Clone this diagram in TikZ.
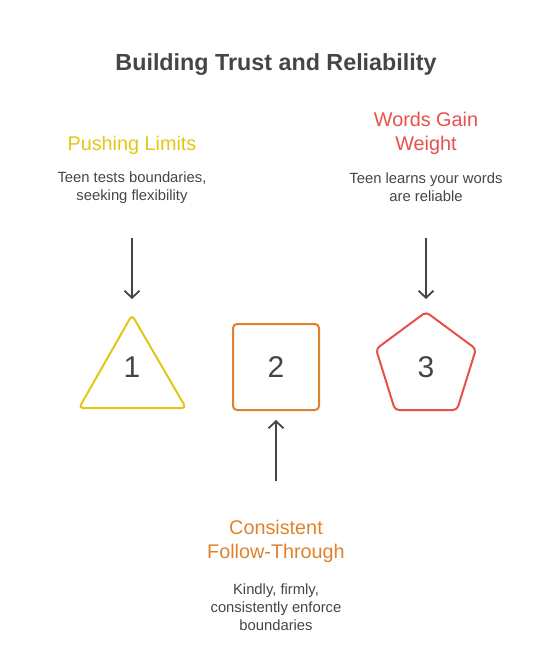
\documentclass[tikz,border=0pt]{standalone}
\usepackage{fontspec}
\setmainfont{Liberation Sans}
\usetikzlibrary{arrows.meta}
\definecolor{ink}{HTML}{454545}
\definecolor{cyel}{HTML}{E2C716}
\definecolor{corg}{HTML}{E0822D}
\definecolor{cred}{HTML}{E8504B}
\tikzset{
  x=1pt, y=-1pt,
  heading/.style={align=center, font=\fontsize{19.8}{24}\selectfont, inner sep=0pt},
  desc/.style={align=center, text=ink, font=\fontsize{14.8}{18}\selectfont, inner sep=0pt},
  num/.style={text=ink, font=\fontsize{30}{32}\selectfont, inner sep=0pt},
  shapeline/.style={line width=2pt, rounded corners=4pt},
  conn/.style={draw=ink, line width=1.8pt, -{Straight Barb[length=7pt,width=15pt,line width=1.8pt]}},
}
\begin{document}
\begin{tikzpicture}
\useasboundingbox (0,0) rectangle (552,646);
\node[font=\bfseries\fontsize{23.3}{26}\selectfont, text=ink] (title) at (276,65) {Building Trust and Reliability};

% left
\node[heading, text=cyel] (h1) at (132,145) {Pushing Limits};
\node[desc] (d1) at (132,187.5) {Teen tests boundaries,\\seeking flexibility};
\draw[shapeline, draw=cyel] (132,315) -- (186,408) -- (79,408) -- cycle;
\node[num] (n1) at (132,367) {1};
\coordinate (a1s) at (132,238);
\coordinate (a1e) at (132,299);
\draw[conn] (a1s) -- (a1e);

% middle
\draw[shapeline, draw=corg] (233,324) rectangle (319,410);
\node[num] (n2) at (276,367) {2};
\node[heading, text=corg] (h2) at (276,541.5) {Consistent\\Follow-Through};
\node[desc] (d2) at (276,607.5) {Kindly, firmly,\\consistently enforce\\boundaries};
\coordinate (a2s) at (276,481);
\coordinate (a2e) at (276,420);
\draw[conn] (a2s) -- (a2e);

% right
\draw[shapeline, draw=cred] (426,312) -- (476,349) -- (457,410) -- (395,410) -- (376,349) -- cycle;
\node[num] (n3) at (426,367) {3};
\node[heading, text=cred] (h3) at (426,133.5) {Words Gain\\Weight};
\node[desc] (d3) at (426,187.5) {Teen learns your words\\are reliable};
\coordinate (a3s) at (426,238);
\coordinate (a3e) at (426,299);
\draw[conn] (a3s) -- (a3e);
\end{tikzpicture}
\end{document}
